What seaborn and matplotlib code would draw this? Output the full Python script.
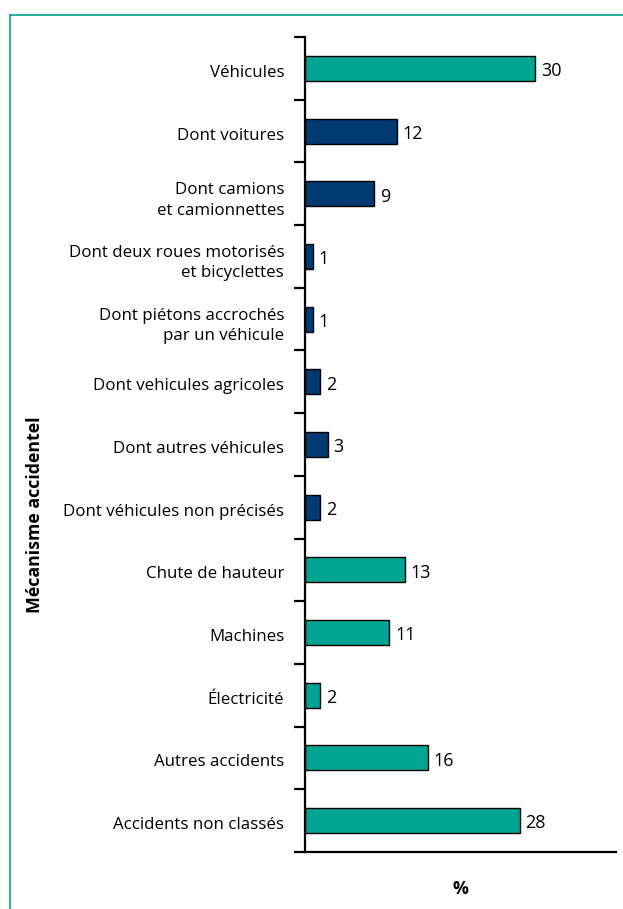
import pandas as pd
import matplotlib.pyplot as plt
import matplotlib.lines as mlines
import matplotlib.transforms as mtrans
import seaborn as sns

# =============================================================================
# Data
# =============================================================================
categories = ['Véhicules', 'Dont voitures', 'Dont camions\net camionnettes',
              'Dont deux roues motorisés\net bicyclettes',
              'Dont piétons accrochés\npar un véhicule',
              'Dont vehicules agricoles', 'Dont autres véhicules',
              'Dont véhicules non précisés', 'Chute de hauteur', 'Machines',
              'Électricité', 'Autres accidents', 'Accidents non classés']
values = [30, 12, 9, 1, 1, 2, 3, 2, 13, 11, 2, 16, 28]
groups = ['main', 'sub', 'sub', 'sub', 'sub', 'sub', 'sub', 'sub',
          'main', 'main', 'main', 'main', 'main']

df = pd.DataFrame({'cat': categories, 'val': values, 'grp': groups})

teal = '#00A591'
navy = '#003A70'

sns.set_style('white')
plt.rcParams['font.family'] = ['Open Sans', 'DejaVu Sans']
plt.rcParams['text.color'] = 'black'
plt.rcParams['ytick.color'] = 'black'

fig = plt.figure(figsize=(6.23, 9.09), dpi=100)
ax = fig.add_axes([305 / 623, 1 - 852 / 909, (616 - 305) / 623, (852 - 37) / 909])

sns.barplot(data=df, x='val', y='cat', hue='grp', dodge=False,
            palette={'main': teal, 'sub': navy}, saturation=1, width=0.4,
            edgecolor='black', linewidth=1, legend=False, ax=ax)

# labels a little lower so they sit on the bar centre like the original
for cont in ax.containers:
    for t in ax.bar_label(cont, padding=4, fontsize=13, color='black'):
        t.xyann = (t.xyann[0], -2)

ax.set_xlim(0, 40.5)
ax.set_ylim(12.5, -0.5)
ax.set_xticks([])
ax.set_yticks(range(len(categories)))
ax.set_yticklabels(categories, fontsize=12.2, ma='right', linespacing=1.38)
ax.set_yticks([i - 0.5 for i in range(len(categories) + 1)], minor=True)
ax.tick_params(axis='y', which='major', length=0, pad=15)
ax.tick_params(axis='y', which='minor', length=8, width=1.6, color='black',
               direction='out', left=True)
down = mtrans.ScaledTranslation(0, -2.5 / 100, fig.dpi_scale_trans)
for lab in ax.get_yticklabels():
    lab.set_transform(lab.get_transform() + down)
ax.set_xlabel('')
ax.set_ylabel('')

for side in ['top', 'right']:
    ax.spines[side].set_visible(False)
for side in ['left', 'bottom']:
    ax.spines[side].set_color('black')
    ax.spines[side].set_linewidth(1.6)

fig.text(35 / 623, 1 - 515 / 909, 'Mécanisme accidentel', rotation=90,
         ha='center', va='center', fontsize=12.8, fontweight='bold')
fig.text(460 / 623, 1 - 889 / 909, '%', ha='center', va='center',
         fontsize=12.8, fontweight='bold')

# teal frame, top and left
fig.add_artist(mlines.Line2D([9.5 / 623, 1], [1 - 14.5 / 909, 1 - 14.5 / 909],
                             color=teal, lw=1.2, transform=fig.transFigure))
fig.add_artist(mlines.Line2D([9.5 / 623, 9.5 / 623], [0, 1 - 14.5 / 909],
                             color=teal, lw=1.2, transform=fig.transFigure))

fig.savefig('out.png', dpi=100)
